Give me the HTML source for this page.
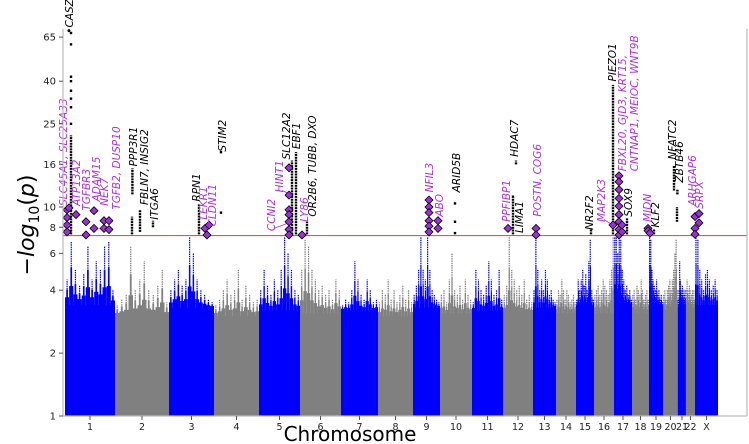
<!DOCTYPE html>
<html><head><meta charset="utf-8"><style>
html,body{margin:0;padding:0;background:#fff;}
svg{display:block;font-family:"DejaVu Sans","Liberation Sans",sans-serif;}
</style></head><body>
<svg id="chart" width="749" height="444" viewBox="0 0 749 444" xmlns="http://www.w3.org/2000/svg">
<g id="marks"></g>
<g id="axes"></g>
<text x="350" y="441" font-size="20" text-anchor="middle" fill="#000">Chromosome</text>
<text transform="translate(34,225) rotate(-90)" font-size="22" text-anchor="middle" fill="#000">−<tspan font-style="italic">log</tspan><tspan font-size="14" dy="5">10</tspan><tspan dy="-5">(</tspan><tspan font-style="italic">p</tspan>)</text>
</svg>
<script>
const chromNames=["1","2","3","4","5","6","7","8","9","10","11","12","13","14","15","16","17","18","19","20","21","22","X"];
const chromLens=[250,270,225,225,205,205,185,175,135,160,155,150,115,100,90,100,90,85,70,75,40,45,115];
const baseVals=[3.4,3.0,3.3,3.0,3.2,3.1,3.2,3.0,3.3,3.1,3.2,3.1,3.3,3.1,3.3,3.1,3.4,3.1,3.3,3.1,3.2,3.1,3.4];
const binVals=[
[4.5,6.8,5,4.2,4.8,6.5,4.5,5.5,5,6.5,6.8,4],
[3.4,3.6,3.8,6.5,4,4.5,5.5,4,3.8,4.2,5,3.5],
[4,4.5,5,4.2,4.5,7.2,6,4.5,4,3.8,3.6,3.5],
[3.4,3.6,4,4.5,3.8,4,5,3.6,4.2,3.8,3.5,3.6],
[4,5,4.2,3.8,4.5,4,5,7.2,6,5,4,3.8],
[5,7,6.5,5,4.5,4,4.2,3.8,4,3.6,4.5,4],
[3.4,3.6,3.5,4,5.5,4.5,3.8,3.6,4.5,4,3.5,3.6],
[3.5,4,3.8,4.5,3.6,4,3.5,3.8,4.2,3.6,4,3.5],
[3.8,4.2,5,7.2,5,4.5,7.2,5,4,3.8,3.6,3.5],
[3.8,4,3.5,4.5,6,4,3.8,4.2,3.6,4.5,3.8,3.6],
[3.5,5,4.5,4,3.8,4.2,5.5,4.5,3.8,4,5,3.6],
[3.8,4.2,7.2,5,4.5,4,4.2,3.8,4.5,3.6,3.8,3.5],
[4,7.2,5,4,4.5,4,5,4.5,3.8,4,3.6,3.5],
[3.6,4,3.8,4.5,4,3.6,4,3.8,3.5,3.6,3.8,3.5],
[3.6,4.5,4,4.5,5,4.2,4.8,4,5.5,7,4,3.6],
[3.8,4,4.2,3.8,4,4.5,4.2,4,3.8,4.5,5,7.2],
[7.2,7.2,6,7.2,7,5,4.5,4,4.2,3.8,4,3.6],
[3.8,4,3.6,4.2,4,3.8,4.5,4,3.6,3.8,4,3.6],
[7.2,7,5,4.5,4.2,4,4.5,3.8,4,3.6,3.8,3.5],
[3.8,4,3.6,4,4.2,4.5,4,4.5,5,6,7,4],
[3.6,4,5.5,4.5,4,3.8,4.2,4,3.6,3.8,4,3.5],
[4,4.5,4,3.8,4.2,4,3.6,3.8,4,3.5,4,3.6],
[7.2,7,5,4.5,4,4.8,5,4.5,4,4.2,4.5,4]];
const yTicks=[1,2,4,6,8,10,16,25,40,65];
const threshold=7.3;
const hitCols=[[30,7.4,22],[335,7.4,9],[337,11.5,15.3],[375,7.6,9.7],[440,8,8.6],[670,7.4,10.3],[1135,7.4,16.7],[1155,7.4,18.3],[1210,7.4,8.5],[2240,7.4,11],[2255,16,16.7],[2630,7.4,7.9],[2740,7.4,38.4],[2810,7.4,8.9],[2945,7.4,7.8],[3045,12,15.8],[3060,8.5,10],[3062,11.5,12.1]];
const hitDots=[[30,25],[30,30],[30,33],[30,36],[30,40],[30,42],[30,60],[30,68],[780,18.3],[780,9.4],[1950,10.4],[1950,8.5],[1950,7.5],[2240,11.2]];
const diamonds=[[10,9.7],[10,8.9],[10,8.2],[10,7.6],[20,9.9],[55,9.2],[105,8.5],[105,7.35],[145,9.6],[145,7.9],[195,8.6],[195,7.9],[220,8.6],[220,7.8],
[700,7.9],[710,7.35],[720,8.2],[1120,15.4],[1120,11.4],[1120,9.7],[1120,9.2],[1120,8.5],[1120,7.8],[1120,7.35],[1185,7.35],
[1820,10.8],[1820,10],[1820,9.4],[1820,8.6],[1820,8.1],[1820,7.6],[1865,8.6],[1865,7.9],[2215,7.9],[2355,7.9],[2355,7.35],
[2740,8.2],[2770,14.1],[2770,13.2],[2770,12.1],[2770,11],[2770,10.1],[2770,9.2],[2770,8.5],[2770,7.8],[2770,7.35],[2785,7.6],[2785,8.2],
[2915,7.9],[2915,7.7],[2925,7.5],[3150,9],[3150,7.9],[3150,7.4],[3170,9.3],[3170,8.4]];
const labels=[["SLC45A1, SLC25A33",10,9.9,1],["•CASZ1",40,66,0],["ATP13A2",75,9.9,1],["TGFBR3",125,9.4,1],["ADAM15",175,10.4,1],["NEK7",215,9.9,1],["TGFB2, DUSP10",275,9.5,1],
["PPP3R1",360,15.3,0],["FBLN7, INSIG2",415,10,0],["ITGA6",465,8.5,0],["RPN1",675,10.4,0],["LEKR1",710,8.5,1],["CLDN11",755,7.9,1],["STIM2",805,18,0],
["CCNI2",1050,7.5,1],["HINT1",1090,11.5,1],["SLC12A2",1125,16.5,0],["EBF1",1175,18.5,0],["LY86",1215,8.3,1],["OR2B6, TUBB, DXO",1255,8.8,0],
["NFIL3",1840,11.5,1],["ABO",1890,8.8,1],["ARID5B",1975,11.5,0],["PPFIBP1",2225,8.3,1],["HDAC7",2265,17,0],["LIMA1",2290,7.35,0],["POSTN, COG6",2380,8.8,1],
["NR2F2",2640,7.6,0],["MAP2K3",2700,8.3,1],["PIEZO1",2755,39,0],["FBXL20, GJD3, KRT15,",2805,14.5,1],["CNTNAP1, MEIOC, WNT9B",2865,14.5,1],["SOX9",2835,8.8,0],
["MIDN",2930,8.3,1],["KLF2",2970,7.8,0],["NFATC2",3055,16.5,0],["ZBTB46",3090,12.8,0],["ARHGAP6",3155,9.9,1],["SRPX",3190,9.6,1]];

const NS="http://www.w3.org/2000/svg";
const X0=65,PXU=0.2,Y0=416,KY=209,PLOT_TOP=29,PLOT_R=747;
const starts=[];let acc=0;for(const l of chromLens){starts.push(acc);acc+=l;}
const gx=u=>X0+u*PXU;
const gy=v=>Y0-KY*Math.log10(v);
const marks=document.getElementById('marks');
const axes=document.getElementById('axes');
function mk(tag,attrs,parent){const e=document.createElementNS(NS,tag);for(const k in attrs)e.setAttribute(k,attrs[k]);parent.appendChild(e);return e;}

chromLens.forEach((len,i)=>{
  const col=i%2===0?"#0000ff":"#808080";
  const g=mk('g',{},marks);
  
  
  const x1=gx(starts[i]),x2=gx(starts[i]+len);
  const base=mk('rect',{x:x1,y:gy(baseVals[i]),width:x2-x1,height:Y0-gy(baseVals[i]),fill:col},g);
  
  
  const vals=binVals[i],n=vals.length,bw=(x2-x1)/n;
  vals.forEach((v,j)=>{
    const mid=baseVals[i]*Math.pow(v/baseVals[i],0.3);
    const bx=x1+j*bw;
    const r=mk('rect',{x:bx,y:gy(mid),width:bw,height:Y0-gy(mid),fill:col},g);
    
    
    const mid2=baseVals[i]*Math.pow(v/baseVals[i],0.6);
    const r2=mk('rect',{x:bx+bw*0.3,y:gy(mid2),width:Math.max(1,bw*0.4),height:Y0-gy(mid2),fill:col},g);
    
    
    const s=mk('line',{x1:bx+bw/2,x2:bx+bw/2,y1:Y0,y2:gy(v),stroke:col,'stroke-width':1.2,'stroke-dasharray':'1.5 0.8'},g);
    
    
  });
});

const th=mk('line',{x1:63,x2:PLOT_R,y1:gy(threshold),y2:gy(threshold),stroke:"#f05050",'stroke-width':1.2},marks);



hitCols.forEach(h=>{
  const l=mk('line',{x1:gx(h[0]),x2:gx(h[0]),y1:gy(h[1]),y2:gy(h[2]),stroke:"#000",'stroke-width':2.4,'stroke-dasharray':'2 0.8'},marks);
  
  
});
hitDots.forEach(h=>{
  const c=mk('rect',{x:gx(h[0])-1.2,y:gy(h[1])-1.2,width:2.4,height:2.4,fill:"#000"},marks);
  
  
});
[[1050,7.9,1118,8.4],[1090,12,1118,11.6],[2700,8.7,2738,8.2]].forEach(p=>{
  const l=mk('line',{x1:gx(p[0])-1,y1:gy(p[1]),x2:gx(p[2]),y2:gy(p[3]),stroke:"#b030e0",'stroke-width':0.8},marks);
  
  
});
diamonds.forEach(d=>{
  const x=gx(d[0]),y=gy(d[1]),r=4;
  const p=mk('polygon',{points:`${x},${y-r} ${x+r},${y} ${x},${y+r} ${x-r},${y}`,fill:"#9b30d8",stroke:"#000",'stroke-width':0.8},marks);
  
  
});
labels.forEach(l=>{
  const x=gx(l[1]),y=gy(l[2])-2;
  const t=mk('text',{transform:`translate(${x},${y}) rotate(-90)`,'font-size':10.5,'font-style':'italic',fill:l[3]?"#b030e0":"#000"},marks);
  t.textContent=l[0];
  
  
});

[[63,PLOT_TOP,63,Y0],[63,Y0,PLOT_R,Y0],[PLOT_R,PLOT_TOP,PLOT_R,Y0]].forEach((s,i)=>{
  const l=mk('line',{x1:s[0],y1:s[1],x2:s[2],y2:s[3],stroke:"#bbb",'stroke-width':1.2},axes);
  
  
});
yTicks.forEach(v=>{
  const y=gy(v);
  const tk=mk('line',{x1:59,x2:63,y1:y,y2:y,stroke:"#555",'stroke-width':1},axes);
  
  
  const t=mk('text',{x:56,y:y+3.5,'font-size':10,'text-anchor':'end',fill:"#222"},axes);
  t.textContent=v;
  
  
});
chromLens.forEach((len,i)=>{
  const x=gx(starts[i]+len/2);
  const tk=mk('line',{x1:x,x2:x,y1:Y0,y2:Y0+4,stroke:"#555",'stroke-width':1},axes);
  
  
  const t=mk('text',{x:x,y:Y0+14,'font-size':9.5,'text-anchor':'middle',fill:"#222"},axes);
  t.textContent=chromNames[i];
  
  
});
</script>
</body></html>
